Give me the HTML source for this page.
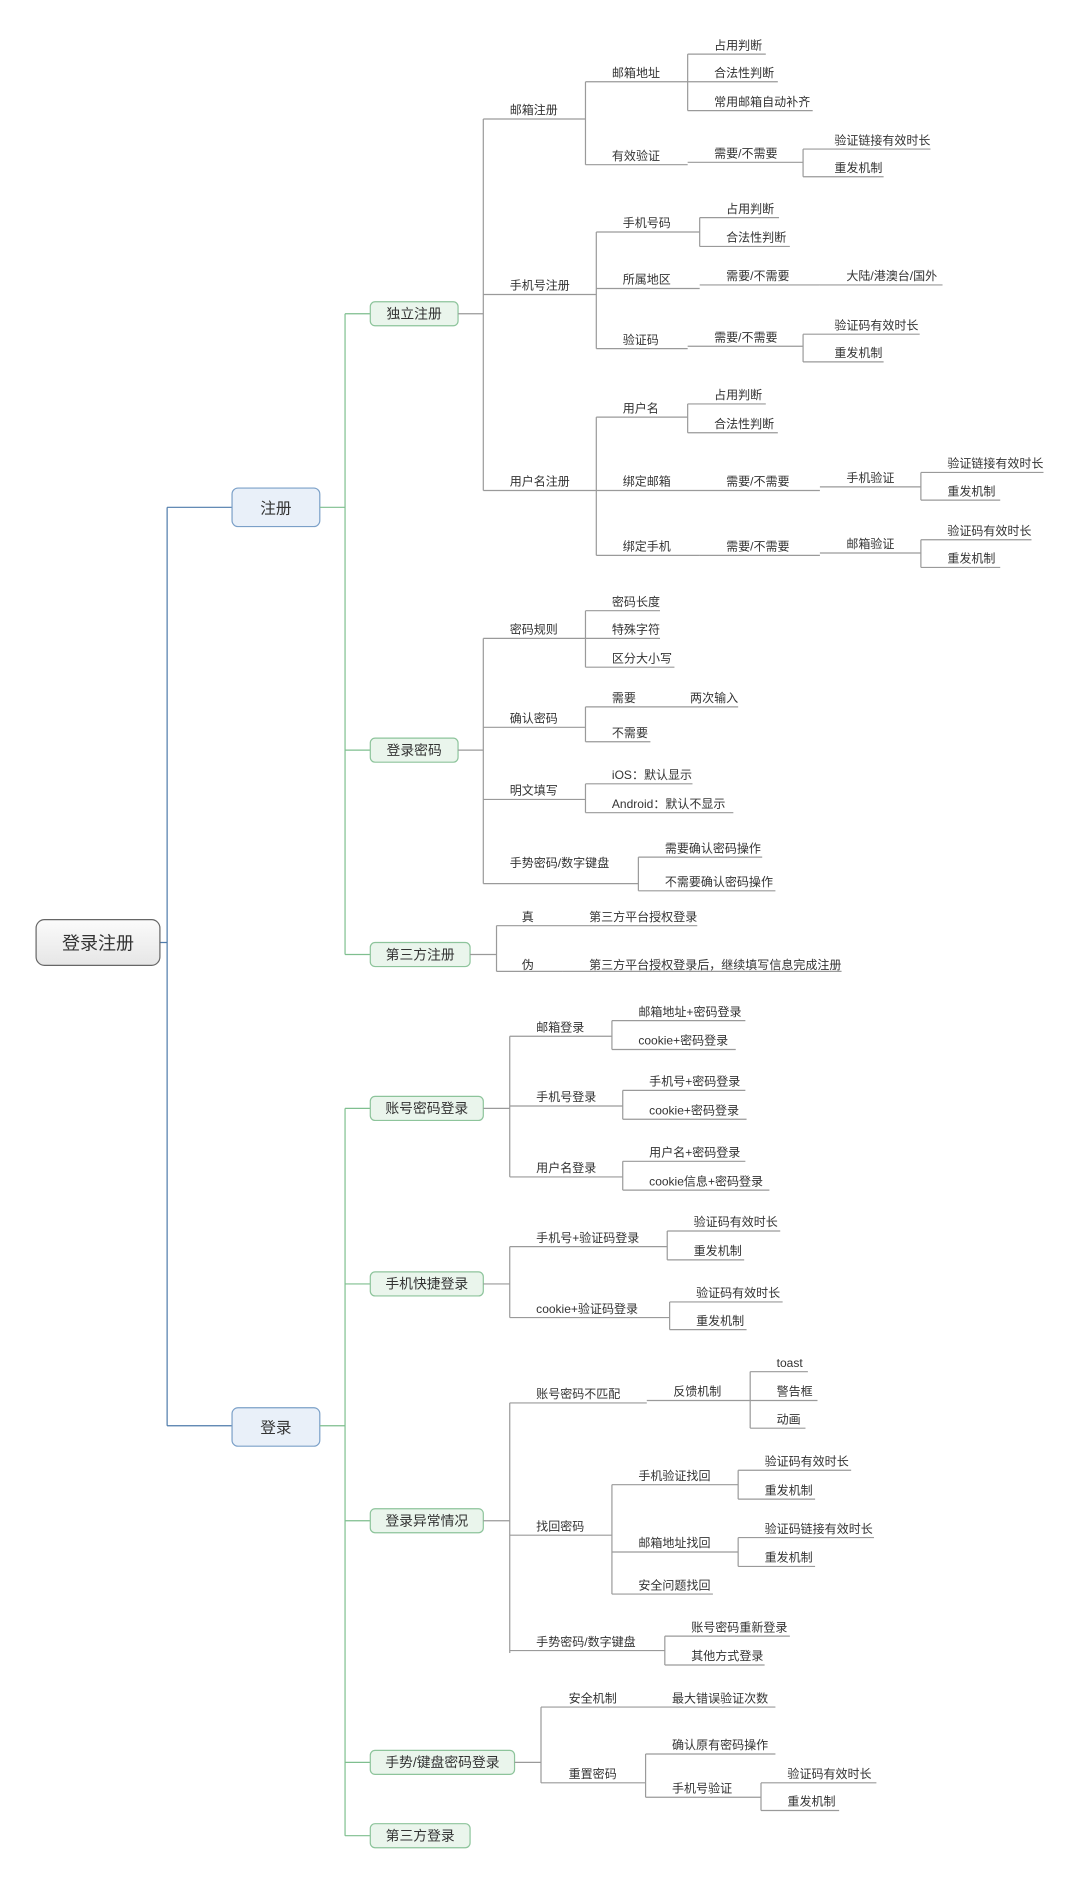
<!DOCTYPE html>
<html><head><meta charset="utf-8"><style>
html,body{margin:0;padding:0;background:#fff}
svg{display:block}
text{font-family:"Liberation Sans","Noto Sans CJK SC",sans-serif;font-size:10px;fill:#333}
.g{stroke:#9a9a9a;stroke-width:1;fill:none}
.b{stroke:#4f7bab;stroke-width:1;fill:none}
.gr{stroke:#7fbf8f;stroke-width:1;fill:none}
.bx2{fill:#eaf5ec;stroke:#8dc49b;stroke-width:1}
.bx1{fill:#e9f0f9;stroke:#7ba0c8;stroke-width:1}
.t2{font-size:11.5px}
</style></head><body>
<svg width="1082" height="1885" viewBox="0 0 900 1568" xmlns="http://www.w3.org/2000/svg">
<defs><linearGradient id="rg" x1="0" y1="0" x2="0" y2="1"><stop offset="0" stop-color="#fbfbfb"/><stop offset="1" stop-color="#e6e6e6"/></linearGradient></defs>
<!-- root -->
<path class="b" d="M133 784H139M139 422V1186M139 422H193M139 1186H193"/>
<rect x="30" y="765" width="103" height="38" rx="7" fill="url(#rg)" stroke="#666"/>
<text x="81.5" y="790" text-anchor="middle" style="font-size:15px">登录注册</text>
<rect class="bx1" x="193" y="406" width="73" height="32" rx="5"/>
<text x="229.5" y="427" text-anchor="middle" style="font-size:13px">注册</text>
<rect class="bx1" x="193" y="1171" width="73" height="32" rx="5"/>
<text x="229.5" y="1192" text-anchor="middle" style="font-size:13px">登录</text>
<path class="gr" d="M266 422H287M287 261V794M287 261H308M287 624H308M287 794H308"/>
<path class="gr" d="M266 1186H287M287 922V1527M287 922H308M287 1068H308M287 1265H308M287 1466H308M287 1527H308"/>
<rect class="bx2" x="308" y="251" width="73" height="20" rx="4"/><text class="t2" x="344.5" y="265" text-anchor="middle">独立注册</text>
<rect class="bx2" x="308" y="614" width="73" height="20" rx="4"/><text class="t2" x="344.5" y="628" text-anchor="middle">登录密码</text>
<rect class="bx2" x="308" y="784" width="83" height="20" rx="4"/><text class="t2" x="349.5" y="798" text-anchor="middle">第三方注册</text>
<rect class="bx2" x="308" y="912" width="94" height="20" rx="4"/><text class="t2" x="355" y="926" text-anchor="middle">账号密码登录</text>
<rect class="bx2" x="308" y="1058" width="94" height="20" rx="4"/><text class="t2" x="355" y="1072" text-anchor="middle">手机快捷登录</text>
<rect class="bx2" x="308" y="1255" width="94" height="20" rx="4"/><text class="t2" x="355" y="1269" text-anchor="middle">登录异常情况</text>
<rect class="bx2" x="308" y="1456" width="120" height="20" rx="4"/><text class="t2" x="368" y="1470" text-anchor="middle">手势/键盘密码登录</text>
<rect class="bx2" x="308" y="1517" width="83" height="20" rx="4"/><text class="t2" x="349.5" y="1531" text-anchor="middle">第三方登录</text>

<!-- Tree A -->
<path class="g" d="M381 261H402M402 99V408
M402 99H487M487 68V137
M487 68H572M572 45V92M572 45H637M572 68H647M572 92H676
M487 137H572M572 135H668M668 124V147M668 124H774M668 147H735
M402 245H496M496 193V290
M496 193H582M582 181V205M582 181H648M582 205H657
M496 240H582M582 237H682M682 237H784
M496 290H572M572 288H668M668 278V301M668 278H765M668 301H735
M402 408H496M496 347V462
M496 347H572M572 336V360M572 336H637M572 360H647
M496 408H582M582 408H682M682 405H766M766 393V416M766 393H868M766 416H832
M496 462H582M582 462H682M682 460H766M766 449V472M766 449H858M766 472H832"/>
<text x="424" y="95">邮箱注册</text>
<text x="509" y="64">邮箱地址</text>
<text x="594" y="41">占用判断</text><text x="594" y="64">合法性判断</text><text x="594" y="88">常用邮箱自动补齐</text>
<text x="509" y="133">有效验证</text><text x="594" y="131">需要/不需要</text>
<text x="694" y="120">验证链接有效时长</text><text x="694" y="143">重发机制</text>
<text x="424" y="241">手机号注册</text>
<text x="518" y="189">手机号码</text><text x="604" y="177">占用判断</text><text x="604" y="201">合法性判断</text>
<text x="518" y="236">所属地区</text><text x="604" y="233">需要/不需要</text><text x="704" y="233">大陆/港澳台/国外</text>
<text x="518" y="286">验证码</text><text x="594" y="284">需要/不需要</text>
<text x="694" y="274">验证码有效时长</text><text x="694" y="297">重发机制</text>
<text x="424" y="404">用户名注册</text>
<text x="518" y="343">用户名</text><text x="594" y="332">占用判断</text><text x="594" y="356">合法性判断</text>
<text x="518" y="404">绑定邮箱</text><text x="604" y="404">需要/不需要</text><text x="704" y="401">手机验证</text>
<text x="788" y="389">验证链接有效时长</text><text x="788" y="412">重发机制</text>
<text x="518" y="458">绑定手机</text><text x="604" y="458">需要/不需要</text><text x="704" y="456">邮箱验证</text>
<text x="788" y="445">验证码有效时长</text><text x="788" y="468">重发机制</text>

<!-- Tree B -->
<path class="g" d="M381 624H402M402 531V735
M402 531H487M487 508V555M487 508H549M487 531H549M487 555H561
M402 605H487M487 588V617M487 588H572M572 588H614M487 617H541
M402 665H487M487 652V676M487 652H576M487 676H610
M402 735H531M531 713V741M531 713H634M531 741H645"/>
<text x="424" y="527">密码规则</text>
<text x="509" y="504">密码长度</text><text x="509" y="527">特殊字符</text><text x="509" y="551">区分大小写</text>
<text x="424" y="601">确认密码</text>
<text x="509" y="584">需要</text><text x="574" y="584">两次输入</text><text x="509" y="613">不需要</text>
<text x="424" y="661">明文填写</text>
<text x="509" y="648">iOS：默认显示</text><text x="509" y="672">Android：默认不显示</text>
<text x="424" y="721">手势密码/数字键盘</text>
<text x="553" y="709">需要确认密码操作</text><text x="553" y="737">不需要确认密码操作</text>

<!-- Tree C -->
<path class="g" d="M391 794H413M413 770V808M413 770H468M468 770H580M413 808H468M468 808H700"/>
<text x="434" y="766">真</text><text x="490" y="766">第三方平台授权登录</text>
<text x="434" y="806">伪</text><text x="490" y="806">第三方平台授权登录后，继续填写信息完成注册</text>

<!-- Tree D -->
<path class="g" d="M402 922H424M424 862V979
M424 862H509M509 849V873M509 849H620M509 873H612
M424 920H518M518 907V931M518 907H620M518 931H621
M424 979H518M518 966V990M518 966H620M518 990H640"/>
<text x="446" y="858">邮箱登录</text><text x="531" y="845">邮箱地址+密码登录</text><text x="531" y="869">cookie+密码登录</text>
<text x="446" y="916">手机号登录</text><text x="540" y="903">手机号+密码登录</text><text x="540" y="927">cookie+密码登录</text>
<text x="446" y="975">用户名登录</text><text x="540" y="962">用户名+密码登录</text><text x="540" y="986">cookie信息+密码登录</text>

<!-- Tree E -->
<path class="g" d="M402 1068H424M424 1037V1096
M424 1037H555M555 1024V1048M555 1024H649M555 1048H619
M424 1096H557M557 1083V1106M557 1083H651M557 1106H621"/>
<text x="446" y="1033">手机号+验证码登录</text><text x="577" y="1020">验证码有效时长</text><text x="577" y="1044">重发机制</text>
<text x="446" y="1092">cookie+验证码登录</text><text x="579" y="1079">验证码有效时长</text><text x="579" y="1102">重发机制</text>

<!-- Tree F -->
<path class="g" d="M402 1265H424M424 1167V1375
M424 1167H538M538 1165H624M624 1141V1188M624 1141H672M624 1165H680M624 1188H670
M424 1277H509M509 1235V1326
M509 1235H614M614 1223V1247M614 1223H708M614 1247H678
M509 1291H614M614 1279V1303M614 1279H727M614 1303H678
M509 1326H593
M424 1373H553M553 1361V1385M553 1361H657M553 1385H636"/>
<text x="446" y="1163">账号密码不匹配</text><text x="560" y="1161">反馈机制</text>
<text x="646" y="1137">toast</text><text x="646" y="1161">警告框</text><text x="646" y="1184">动画</text>
<text x="446" y="1273">找回密码</text>
<text x="531" y="1231">手机验证找回</text><text x="636" y="1219">验证码有效时长</text><text x="636" y="1243">重发机制</text>
<text x="531" y="1287">邮箱地址找回</text><text x="636" y="1275">验证码链接有效时长</text><text x="636" y="1299">重发机制</text>
<text x="531" y="1322">安全问题找回</text>
<text x="446" y="1369">手势密码/数字键盘</text><text x="575" y="1357">账号密码重新登录</text><text x="575" y="1381">其他方式登录</text>

<!-- Tree G -->
<path class="g" d="M428 1466H450M450 1420V1483
M450 1420H537M537 1420H645
M450 1483H537M537 1459V1495M537 1459H645M537 1495H633M633 1483V1506M633 1483H729M633 1506H698"/>
<text x="473" y="1416">安全机制</text><text x="559" y="1416">最大错误验证次数</text>
<text x="473" y="1479">重置密码</text><text x="559" y="1455">确认原有密码操作</text><text x="559" y="1491">手机号验证</text>
<text x="655" y="1479">验证码有效时长</text><text x="655" y="1502">重发机制</text>
</svg>
</body></html>
